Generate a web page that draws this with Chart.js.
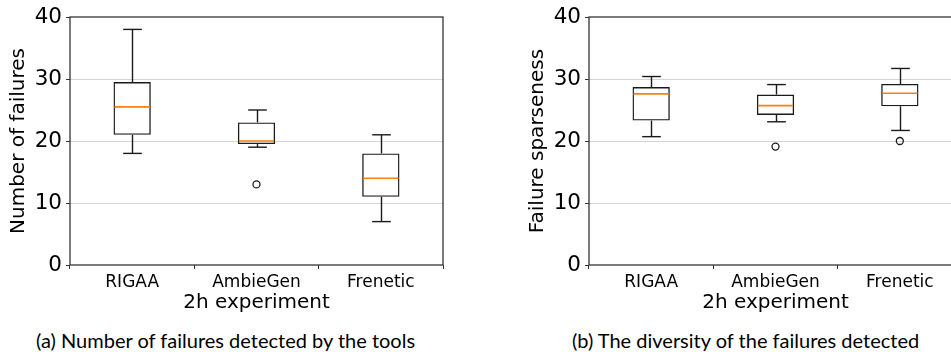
<!DOCTYPE html>
<html>
<head>
<meta charset="utf-8">
<script src="https://cdn.jsdelivr.net/npm/chart.js@4.4.1/dist/chart.umd.min.js"></script>
<style>
  html, body { margin: 0; padding: 0; background: #fff; }
  #page { position: relative; width: 951px; height: 352px; overflow: hidden; }
  .panel { position: absolute; top: 0; width: 460px; height: 320px; }
  .caption { position: absolute; top: 328px; font-family: Lato, "Open Sans", sans-serif;
             font-size: 20px; line-height: 24px; color: #000; white-space: nowrap; }
</style>
</head>
<body>
<div id="page">
  <div class="panel" style="left:0"><canvas id="failChart" width="460" height="320"></canvas></div>
  <div class="panel" style="left:519px"><canvas id="sparseChart" width="460" height="320"></canvas></div>
  <div class="caption" id="capA" style="left:36px">(a) Number of failures detected by the tools</div>
  <div class="caption" id="capB" style="left:572px">(b) The diversity of the failures detected</div>
</div>
<script>
const categories = ["RIGAA", "AmbieGen", "Frenetic"];
const yTicks = [0, 10, 20, 30, 40];

// (a) number of failures
const failLow = [18, 19, 7];
const failQ1 = [21, 19.5, 11];
const failMedian = [25.5, 20, 14];
const failQ3 = [29.5, 23, 18];
const failHigh = [38, 25, 21];
const failOutliers = [[], [13], []];

// (b) failure sparseness
const sparseLow = [20.7, 23.1, 21.7];
const sparseQ1 = [23.3, 24.2, 25.6];
const sparseMedian = [27.6, 25.7, 27.7];
const sparseQ3 = [28.7, 27.5, 29.2];
const sparseHigh = [30.4, 29.1, 31.7];
const sparseOutliers = [[], [19.1], [20.0]];

const INK = "#1a1a1a";

function seg(ctx, x1, y1, x2, y2) {
  ctx.beginPath();
  ctx.moveTo(x1, y1);
  ctx.lineTo(x2, y2);
  ctx.stroke();
}

// whiskers, caps, medians and the axes frame, all placed with the chart's scales
function boxPlugin(low, median, high, q1, q3) {
  return {
    id: "boxWhiskers",
    afterDatasetsDraw(chart) {
      const {ctx, scales: {x, y}} = chart;
      const bars = chart.getDatasetMeta(0).data;
      ctx.save();
      ctx.lineWidth = 1.4;
      ctx.strokeStyle = INK;
      median.forEach((m, i) => {
        const cx = Math.round(x.getPixelForValue(i)) + 0.5;
        const cap = bars[i].width / 4;
        const yHi = y.getPixelForValue(high[i]);
        const yLo = y.getPixelForValue(low[i]);
        seg(ctx, cx, y.getPixelForValue(q3[i]), cx, yHi);
        seg(ctx, cx - cap, yHi, cx + cap, yHi);
        seg(ctx, cx, y.getPixelForValue(q1[i]), cx, yLo);
        seg(ctx, cx - cap, yLo, cx + cap, yLo);
      });
      ctx.strokeStyle = "#ff7f0e";
      ctx.lineWidth = 1.6;
      median.forEach((m, i) => {
        const cx = x.getPixelForValue(i);
        const hw = bars[i].width / 2;
        const ym = y.getPixelForValue(m);
        seg(ctx, cx - hw + 1, ym, cx + hw - 1, ym);
      });
      ctx.restore();
    },
    afterDraw(chart) {
      const {ctx, chartArea: a} = chart;
      ctx.save();
      ctx.strokeStyle = "#333";
      ctx.lineWidth = 1.3;
      ctx.strokeRect(a.left, a.top, a.right - a.left, a.bottom - a.top);
      ctx.restore();
    }
  };
}

function makeBoxChart(id, yTitle, low, q1, median, q3, high, outliers) {
  const outlierPoints = [];
  outliers.forEach((list, i) => list.forEach(v => outlierPoints.push({x: categories[i], y: v})));

  return new Chart(document.getElementById(id), {
    type: "bar",
    data: {
      labels: categories,
      datasets: [{
        label: "box",
        data: q1.map((v, i) => [v, q3[i]]),
        backgroundColor: "transparent",
        borderColor: INK,
        borderWidth: 1.4,
        borderSkipped: false,
        barPercentage: 0.3,
        categoryPercentage: 1
      }, {
        type: "line",
        label: "outliers",
        data: outlierPoints,
        showLine: false,
        pointStyle: "circle",
        pointRadius: 3.5,
        pointBorderWidth: 1.3,
        pointBorderColor: INK,
        pointBackgroundColor: "transparent"
      }]
    },
    options: {
      responsive: false,
      animation: false,
      layout: {padding: {left: 0, top: 17, right: 17, bottom: 0}},
      plugins: {legend: {display: false}, tooltip: {enabled: false}},
      scales: {
        x: {
          afterFit: s => { s.height = 55; },
          border: {display: false},
          grid: {drawOnChartArea: false, tickLength: 4, tickColor: "#333", tickWidth: 1},
          ticks: {color: "#000", padding: 3, font: {family: "DejaVu Sans", size: 17}},
          title: {display: true, text: "2h experiment", color: "#000",
                  padding: {top: 0, bottom: 5}, font: {family: "DejaVu Sans", size: 20}}
        },
        y: {
          min: 0,
          max: 40,
          afterFit: s => { s.width = 70; },
          afterBuildTicks: s => { s.ticks = yTicks.map(v => ({value: v})); },
          border: {display: false},
          grid: {
            color: c => (c.tick && (c.tick.value === 0 || c.tick.value === 40)) ? "transparent" : "#d4d4d4",
            tickColor: "#333",
            tickLength: 4,
            lineWidth: 1
          },
          ticks: {color: "#000", padding: 4, font: {family: "DejaVu Sans", size: 21.5}},
          title: {display: true, text: yTitle, color: "#000",
                  padding: {top: 7, bottom: 0}, font: {family: "DejaVu Sans", size: 20}}
        }
      }
    },
    plugins: [boxPlugin(low, median, high, q1, q3)]
  });
}

makeBoxChart("failChart", "Number of failures", failLow, failQ1, failMedian, failQ3, failHigh, failOutliers);
makeBoxChart("sparseChart", "Failure sparseness", sparseLow, sparseQ1, sparseMedian, sparseQ3, sparseHigh, sparseOutliers);
</script>
</body>
</html>
